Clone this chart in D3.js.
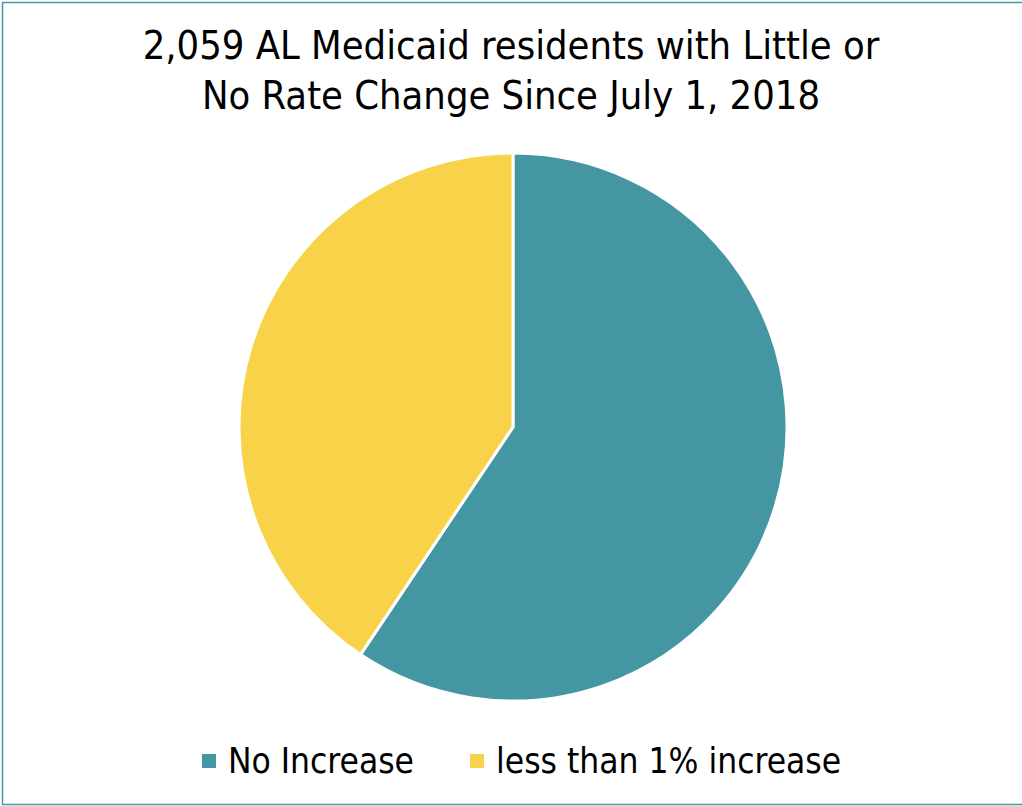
<!DOCTYPE html>
<html>
<head>
<meta charset="utf-8">
<script src="https://cdn.jsdelivr.net/npm/d3@7"></script>
<style>
  body { margin: 0; background: #fff; }
  svg { display: block; }
</style>
</head>
<body>
<div id="container"></div>
<script>
// Données
const categories = ["No Increase", "less than 1% increase"];
const residents = [1223, 836];
const colors = ["#4497a2", "#f8d349"];
const titleLines = ["2,059 AL Medicaid residents with Little or", "No Rate Change Since July 1, 2018"];

const width = 1022;
const height = 806;
const font = "'DejaVu Sans Condensed', sans-serif";

const svg = d3.select("#container")
  .append("svg")
  .attr("width", width)
  .attr("height", height);

// cadre
svg.append("rect")
  .attr("x", 2.5)
  .attr("y", 2.5)
  .attr("width", width + 20)
  .attr("height", 802)
  .attr("fill", "none")
  .attr("stroke", "#4a98a3")
  .attr("stroke-width", 1.5);

// titre
svg.append("g")
  .selectAll("text")
  .data(titleLines)
  .join("text")
  .attr("x", 511)
  .attr("y", (d, i) => 59 + i * 50)
  .attr("text-anchor", "middle")
  .attr("font-family", font)
  .attr("font-size", 39.5)
  .attr("fill", "#000")
  .text(d => d);

// camembert
const cx = 513, cy = 427, radius = 274;
const pie = d3.pie().sort(null).value(d => d);
const arcGen = d3.arc().innerRadius(0).outerRadius(radius);

svg.append("g")
  .attr("transform", `translate(${cx},${cy})`)
  .selectAll("path")
  .data(pie(residents))
  .join("path")
  .attr("d", arcGen)
  .attr("fill", (d, i) => colors[i])
  .attr("stroke", "#fff")
  .attr("stroke-width", 3);

// légende
const legendX = [202, 470];
const legend = svg.append("g")
  .selectAll("g")
  .data(categories)
  .join("g")
  .attr("transform", (d, i) => `translate(${legendX[i]},0)`);

legend.append("rect")
  .attr("x", 0)
  .attr("y", 754)
  .attr("width", 14)
  .attr("height", 14)
  .attr("fill", (d, i) => colors[i]);

legend.append("text")
  .attr("x", 26)
  .attr("y", 773)
  .attr("font-family", font)
  .attr("font-size", 35)
  .attr("fill", "#000")
  .text(d => d);
</script>
</body>
</html>
